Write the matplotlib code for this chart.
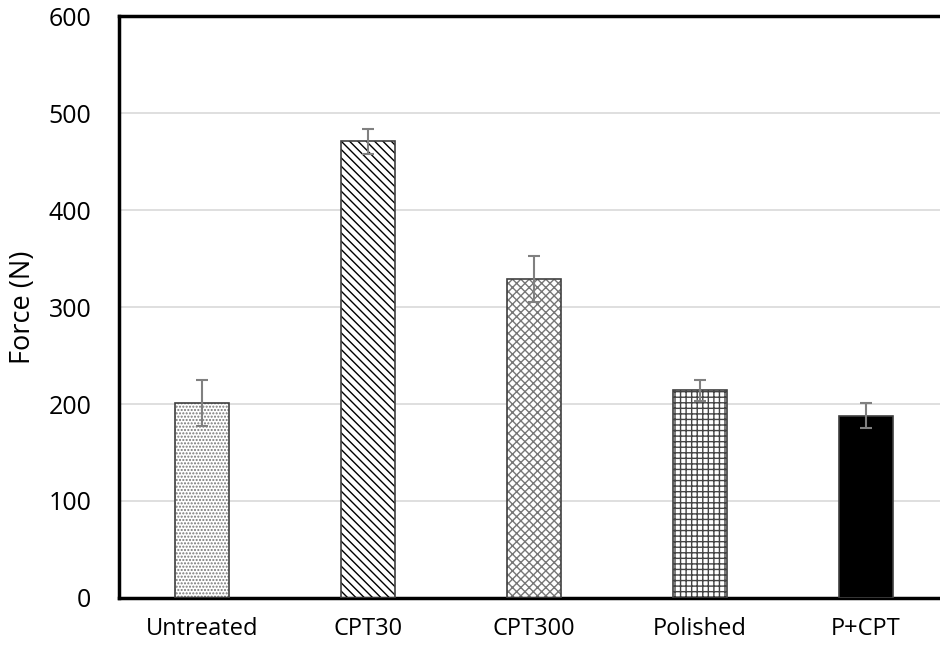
import numpy as np
import matplotlib.pyplot as plt

plt.rcParams['font.family'] = ['Open Sans', 'DejaVu Sans']

# data
groups = ['Untreated', 'CPT30', 'CPT300', 'Polished', 'P+CPT']
force = [201, 471, 329, 214, 188]
force_err = [24, 13, 24, 11, 13]

hatches = ['.....', '\\\\\\\\', 'xxxx', '+++', '']
hatch_cols = ['#777777', 'black', '#777777', '#444444', 'black']
faces = ['white', 'white', 'white', 'white', 'black']

fig = plt.figure(figsize=(9.4, 6.49), dpi=100)
ax = fig.add_axes([0.1266, 0.0786, 0.883, 0.8967])

x = np.arange(len(groups))
plt.rcParams['hatch.linewidth'] = 1.0
for i in range(len(groups)):
    ax.bar(x[i], force[i], width=0.32, color=faces[i], hatch=hatches[i],
           edgecolor=hatch_cols[i], linewidth=0, zorder=2)
    ax.bar(x[i], force[i], width=0.32, fill=False, edgecolor='#404040',
           linewidth=1.2, zorder=3)

ax.errorbar(x, force, yerr=force_err, fmt='none', ecolor='#808080',
            elinewidth=1.5, capsize=4, capthick=1.5, zorder=4)

ax.set_xlim(-0.5, len(groups) - 0.5)
ax.set_ylim(0, 600)
ax.set_yticks(range(0, 601, 100))
ax.set_xticks(x)
ax.set_xticklabels(groups)
ax.yaxis.grid(True, color='#d9d9d9', linewidth=1.2, zorder=0)
ax.set_axisbelow(True)
ax.tick_params(axis='both', length=0, labelsize=17, colors='black')
ax.tick_params(axis='y', labelsize=18, pad=20)
ax.tick_params(axis='x', pad=14)
ax.set_ylabel('Force (N)', fontsize=19.5, labelpad=8)

for s in ['left', 'top', 'bottom', 'right']:
    ax.spines[s].set_linewidth(2.5)
    ax.spines[s].set_color('black')

fig.savefig('out.png', dpi=100)
